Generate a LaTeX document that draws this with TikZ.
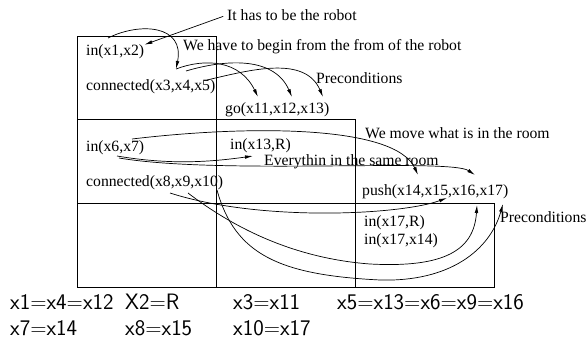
\documentclass[tikz,border=0pt]{standalone}
\usepackage{fontspec}
\setmainfont{Liberation Serif}
\usetikzlibrary{arrows.meta}
\tikzset{
  txt/.style={anchor=west,inner sep=0pt,font=\fontsize{15.7}{18}\selectfont},
  eqn/.style={anchor=base west,inner sep=0pt,font=\sffamily\fontsize{22.3}{25}\selectfont},
  conn/.style={-{Latex[length=8pt,width=3.6pt]},line width=.7pt},
}
\begin{document}
\begin{tikzpicture}[x=1pt,y=-1pt]
\useasboundingbox (0,0) rectangle (587,342);

\draw[line width=.8pt] (77,36) rectangle (216,287);
\draw[line width=.8pt] (216,119) rectangle (355,287);
\draw[line width=.8pt] (355,203) rectangle (494,287);
\draw[line width=.8pt] (77,119)--(216,119) (77,203)--(355,203);

\node[txt] (robot) at (227,15) {It has to be the robot};
\node[txt] (begin) at (183,47) {We have to begin from the from of the robot};
\node[txt] (in12) at (86,52) {in(x1,x2)};
\node[txt] (con345) at (86,87) {connected(x3,x4,x5)};
\node[txt] (pre1) at (316,78) {Preconditions};
\node[txt] (go) at (225,110) {go(x11,x12,x13)};
\node[txt] (move) at (365,133) {We move what is in the room};
\node[txt] (in67) at (86,148) {in(x6,x7)};
\node[txt] (in13) at (230,146) {in(x13,R)};
\node[txt] (same) at (264,162) {Everythin in the same room};
\node[txt] (con8910) at (86,183) {connected(x8,x9,x10)};
\node[txt] (push) at (362,192) {push(x14,x15,x16,x17)};
\node[txt] (in17R) at (364,223) {in(x17,R)};
\node[txt] (in1714) at (364,241) {in(x17,x14)};
\node[txt] (pre2) at (500,217) {Preconditions};

\node[eqn] (e1) at (10,309) {x1=x4=x12};
\node[eqn] (e2) at (125,309) {X2=R};
\node[eqn] (e3) at (233,309) {x3=x11};
\node[eqn] (e4) at (337,309) {x5=x13=x6=x9=x16};
\node[eqn] (e5) at (10,335) {x7=x14};
\node[eqn] (e6) at (125,335) {x8=x15};
\node[eqn] (e7) at (233,335) {x10=x17};

\coordinate (x1) at (108,38);
\coordinate (x3) at (176,69);
\coordinate (x4) at (186,71);
\coordinate (x5) at (207,80);
\coordinate (x11) at (258,97);
\coordinate (x12) at (292,97);
\coordinate (x13) at (323,97);
\coordinate (x6a) at (132,139);
\coordinate (x6b) at (117,156);
\coordinate (x6c) at (119,158);
\coordinate (x8) at (170,193);
\coordinate (x9) at (188,193);
\coordinate (x10) at (217,190);
\coordinate (x14) at (418,175);
\coordinate (x15) at (475,175);
\coordinate (x16) at (447,198);
\coordinate (x17a) at (477,205);
\coordinate (x17b) at (503,204);
\coordinate (x13R) at (253,156);

\draw[conn,shorten <=4pt] (robot.west)--(in12.north east);
\draw[conn] (x1) .. controls (140,22) and (185,25) .. (x3);
\draw[conn] (x3) .. controls (205,58) and (240,60) .. (x11);
\draw[conn] (x4) .. controls (230,58) and (275,58) .. (x12);
\draw[conn] (x5) .. controls (250,70) and (305,55) .. (x13);
\draw[conn] (x6a) .. controls (250,125) and (395,125) .. (x14);
\draw[conn] (x6b) .. controls (170,165) and (210,162) .. (x13R);
\draw[conn] (x6c) .. controls (220,175) and (450,158) .. (x15);
\draw[conn] (x8) .. controls (260,222) and (400,215) .. (x16);
\draw[conn] (x9) .. controls (230,225) and (290,258) .. (370,264)
  .. controls (445,268) and (474,250) .. (x17a);
\draw[conn] (x10) .. controls (235,255) and (280,275) .. (380,280)
  .. controls (450,282) and (490,250) .. (x17b);

\end{tikzpicture}
\end{document}
